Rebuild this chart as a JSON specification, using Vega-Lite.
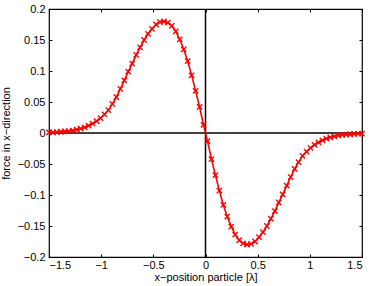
{
  "$schema": "https://vega.github.io/schema/vega-lite/v6.json",
  "width": 313,
  "height": 248,
  "autosize": "none",
  "padding": {"left": 49, "top": 9, "right": 12, "bottom": 29},
  "background": "white",
  "config": {
    "view": {"stroke": "#000000", "strokeWidth": 1.2},
    "axis": {
      "grid": false,
      "domain": false,
      "tickColor": "#000000",
      "tickWidth": 1,
      "tickSize": 3,
      "offset": -3,
      "labelColor": "#000000",
      "labelFont": "Liberation Sans",
      "labelFontSize": 11,
      "titleColor": "#000000",
      "titleFont": "Liberation Sans",
      "titleFontSize": 11,
      "titleFontWeight": "normal"
    }
  },
  "datasets": {
    "force": [
      {"x": -1.5, "f": 0.001}, {"x": -1.46203, "f": 0.001}, {"x": -1.42405, "f": 0.0015}, {"x": -1.38608, "f": 0.002},
      {"x": -1.3481, "f": 0.0025}, {"x": -1.31013, "f": 0.003}, {"x": -1.27215, "f": 0.004}, {"x": -1.23418, "f": 0.0055},
      {"x": -1.1962, "f": 0.007}, {"x": -1.15823, "f": 0.009}, {"x": -1.12025, "f": 0.012}, {"x": -1.08228, "f": 0.015},
      {"x": -1.0443, "f": 0.019}, {"x": -1.00633, "f": 0.024}, {"x": -0.96835, "f": 0.03}, {"x": -0.93038, "f": 0.037},
      {"x": -0.89241, "f": 0.047}, {"x": -0.85443, "f": 0.058}, {"x": -0.81646, "f": 0.071}, {"x": -0.77848, "f": 0.085},
      {"x": -0.74051, "f": 0.099}, {"x": -0.70253, "f": 0.112}, {"x": -0.66456, "f": 0.126}, {"x": -0.62658, "f": 0.138},
      {"x": -0.58861, "f": 0.15}, {"x": -0.55063, "f": 0.16}, {"x": -0.51266, "f": 0.168}, {"x": -0.47468, "f": 0.175},
      {"x": -0.43671, "f": 0.179}, {"x": -0.39873, "f": 0.18}, {"x": -0.36076, "f": 0.178}, {"x": -0.32278, "f": 0.173},
      {"x": -0.28481, "f": 0.164}, {"x": -0.24684, "f": 0.151}, {"x": -0.20886, "f": 0.135}, {"x": -0.17089, "f": 0.116},
      {"x": -0.13291, "f": 0.093}, {"x": -0.09494, "f": 0.068}, {"x": -0.05696, "f": 0.042}, {"x": -0.01899, "f": 0.013},
      {"x": 0.01899, "f": -0.013}, {"x": 0.05696, "f": -0.042}, {"x": 0.09494, "f": -0.068}, {"x": 0.13291, "f": -0.093},
      {"x": 0.17089, "f": -0.116}, {"x": 0.20886, "f": -0.135}, {"x": 0.24684, "f": -0.151}, {"x": 0.28481, "f": -0.164},
      {"x": 0.32278, "f": -0.173}, {"x": 0.36076, "f": -0.178}, {"x": 0.39873, "f": -0.18}, {"x": 0.43671, "f": -0.179},
      {"x": 0.47468, "f": -0.175}, {"x": 0.51266, "f": -0.168}, {"x": 0.55063, "f": -0.16}, {"x": 0.58861, "f": -0.15},
      {"x": 0.62658, "f": -0.138}, {"x": 0.66456, "f": -0.126}, {"x": 0.70253, "f": -0.112}, {"x": 0.74051, "f": -0.099},
      {"x": 0.77848, "f": -0.085}, {"x": 0.81646, "f": -0.071}, {"x": 0.85443, "f": -0.058}, {"x": 0.89241, "f": -0.047},
      {"x": 0.93038, "f": -0.037}, {"x": 0.96835, "f": -0.03}, {"x": 1.00633, "f": -0.024}, {"x": 1.0443, "f": -0.019},
      {"x": 1.08228, "f": -0.015}, {"x": 1.12025, "f": -0.012}, {"x": 1.15823, "f": -0.009}, {"x": 1.1962, "f": -0.007},
      {"x": 1.23418, "f": -0.0055}, {"x": 1.27215, "f": -0.004}, {"x": 1.31013, "f": -0.003}, {"x": 1.3481, "f": -0.0025},
      {"x": 1.38608, "f": -0.002}, {"x": 1.42405, "f": -0.0015}, {"x": 1.46203, "f": -0.001}, {"x": 1.5, "f": -0.001}
    ],
    "zero": [{"v": 0}]
  },
  "layer": [
    {
      "data": {"name": "zero"},
      "mark": {"type": "rule", "color": "#000000", "strokeWidth": 1.5},
      "encoding": {
        "x": {
          "field": "v", "type": "quantitative",
          "scale": {"domain": [-1.5, 1.5], "nice": false, "zero": false},
          "axis": {"orient": "top", "title": null, "labels": false, "values": [-1.5, -1, -0.5, 0, 0.5, 1, 1.5]}
        }
      }
    },
    {
      "data": {"name": "zero"},
      "mark": {"type": "rule", "color": "#000000", "strokeWidth": 1.5},
      "encoding": {
        "y": {
          "field": "v", "type": "quantitative",
          "scale": {"domain": [-0.2, 0.2], "nice": false, "zero": false},
          "axis": {"orient": "right", "title": null, "labels": false, "values": [-0.2, -0.15, -0.1, -0.05, 0, 0.05, 0.1, 0.15, 0.2]}
        }
      }
    },
    {
      "data": {"name": "force"},
      "mark": {"type": "line", "color": "#ff0000", "strokeWidth": 1.6},
      "encoding": {
        "x": {
          "field": "x", "type": "quantitative",
          "scale": {"domain": [-1.5, 1.5], "nice": false, "zero": false},
          "axis": {"orient": "bottom", "title": "x−position particle [λ]", "format": "~g", "labelPadding": 2, "titlePadding": 1, "values": [-1.5, -1, -0.5, 0, 0.5, 1, 1.5]}
        },
        "y": {
          "field": "f", "type": "quantitative",
          "scale": {"domain": [-0.2, 0.2], "nice": false, "zero": false},
          "axis": {"orient": "left", "title": "force in x−direction", "format": "~g", "labelPadding": 4, "titlePadding": 6, "values": [-0.2, -0.15, -0.1, -0.05, 0, 0.05, 0.1, 0.15, 0.2]}
        }
      }
    },
    {
      "data": {"name": "force"},
      "mark": {"type": "point", "shape": "M-1,-1L1,1M-1,1L1,-1", "filled": false, "color": "#ff0000", "strokeWidth": 1.4, "size": 28, "opacity": 1},
      "encoding": {
        "x": {"field": "x", "type": "quantitative", "scale": {"domain": [-1.5, 1.5], "nice": false, "zero": false}, "axis": null},
        "y": {"field": "f", "type": "quantitative", "scale": {"domain": [-0.2, 0.2], "nice": false, "zero": false}, "axis": null}
      }
    }
  ],
  "resolve": {"scale": {"x": "independent", "y": "independent"}, "axis": {"x": "independent", "y": "independent"}}
}
